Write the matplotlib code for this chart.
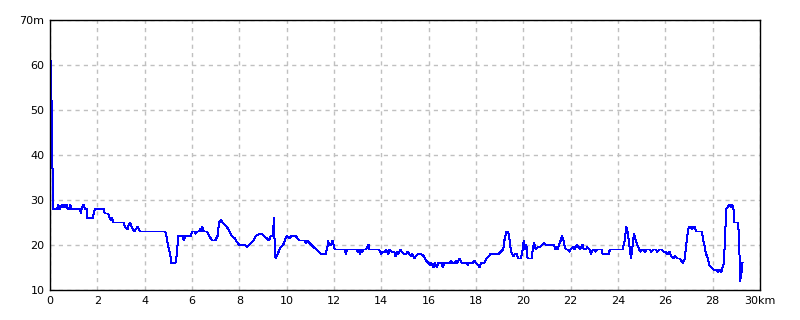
import matplotlib
matplotlib.use("Agg")
import matplotlib.pyplot as plt

# distance (km) and elevation (m)
dist_km = [
    0.00, 0.02, 0.04, 0.05, 0.08, 0.09, 0.11, 0.12, 0.30, 0.35, 0.40, 0.45, 0.50, 0.55, 0.60,
    0.65, 0.70, 0.75, 0.82, 0.86, 0.90, 1.27, 1.30, 1.33, 1.41, 1.48, 1.56, 1.58, 1.80, 1.85,
    1.90, 2.26, 2.32, 2.46, 2.52, 2.58, 2.62, 2.67, 3.10, 3.18, 3.28, 3.33, 3.39, 3.45, 3.55,
    3.62, 3.70, 3.81, 4.87, 4.92, 4.98, 5.03, 5.08, 5.13, 5.30, 5.36, 5.42, 5.60, 5.66, 5.72,
    5.96, 6.00, 6.10, 6.15, 6.22, 6.30, 6.35, 6.40, 6.43, 6.50, 6.64, 6.72, 6.85, 6.98, 7.08,
    7.14, 7.23, 7.28, 7.38, 7.48, 7.58, 7.68, 7.80, 7.86, 7.92, 8.00, 8.25, 8.33, 8.40, 8.50,
    8.60, 8.70, 8.85, 8.95, 9.05, 9.15, 9.25, 9.33, 9.42, 9.46, 9.50, 9.53, 9.58, 9.66, 9.75,
    9.85, 9.92, 10.00, 10.10, 10.20, 10.38, 10.45, 10.55, 10.75, 10.80, 10.85, 10.95, 11.05, 11.15, 11.25,
    11.35, 11.44, 11.65, 11.72, 11.75, 11.80, 11.88, 11.94, 12.00, 12.05, 12.45, 12.50, 12.55, 12.95, 13.00,
    13.05, 13.10, 13.15, 13.20, 13.25, 13.35, 13.40, 13.46, 13.50, 13.90, 14.00, 14.05, 14.15, 14.20, 14.25,
    14.30, 14.35, 14.45, 14.55, 14.60, 14.65, 14.72, 14.80, 14.85, 14.95, 15.05, 15.10, 15.18, 15.25, 15.30,
    15.40, 15.45, 15.55, 15.68, 15.80, 15.90, 16.00, 16.05, 16.10, 16.20, 16.25, 16.35, 16.40, 16.55, 16.60,
    16.65, 16.90, 16.95, 17.00, 17.10, 17.15, 17.20, 17.30, 17.40, 17.60, 17.65, 17.70, 17.85, 17.94, 18.00,
    18.10, 18.15, 18.22, 18.35, 18.45, 18.55, 18.60, 18.95, 19.05, 19.15, 19.20, 19.28, 19.36, 19.42, 19.47,
    19.52, 19.58, 19.65, 19.72, 19.78, 19.90, 19.97, 20.02, 20.08, 20.13, 20.18, 20.35, 20.40, 20.45, 20.52,
    20.60, 20.70, 20.80, 20.88, 20.95, 21.30, 21.35, 21.40, 21.45, 21.50, 21.58, 21.64, 21.70, 21.75, 21.80,
    21.90, 21.95, 22.00, 22.10, 22.15, 22.25, 22.35, 22.40, 22.50, 22.55, 22.65, 22.70, 22.80, 22.85, 22.90,
    22.95, 23.05, 23.10, 23.30, 23.35, 23.60, 23.66, 24.20, 24.28, 24.35, 24.40, 24.48, 24.55, 24.62, 24.67,
    24.75, 24.82, 24.90, 24.95, 25.05, 25.15, 25.20, 25.35, 25.40, 25.50, 25.60, 25.65, 25.75, 25.85, 25.92,
    26.00, 26.10, 26.18, 26.25, 26.34, 26.42, 26.50, 26.60, 26.68, 26.75, 26.82, 26.88, 26.95, 27.00, 27.08,
    27.12, 27.18, 27.25, 27.30, 27.55, 27.60, 27.65, 27.72, 27.80, 27.86, 27.95, 28.05, 28.15, 28.22, 28.30,
    28.36, 28.42, 28.47, 28.52, 28.57, 28.65, 28.72, 28.78, 28.82, 28.88, 28.92, 29.08, 29.12, 29.15, 29.17,
    29.20, 29.22, 29.26,
]
elev_m = [
    66, 61, 61, 52, 52, 37, 37, 28, 28, 29, 28, 28.5, 29, 28.5, 29,
    28.5, 29, 28, 28, 29, 28, 28, 27, 28, 29, 28, 28, 26, 26, 27,
    28, 28, 27, 27, 26, 25.5, 26, 25, 25, 24, 23.5, 24.5, 25, 24, 23,
    23.5, 24, 23, 23, 22, 20, 19, 18, 16, 16, 18, 22, 22, 21, 22,
    22, 23, 23, 22.5, 23, 23, 23.5, 23, 24, 23, 23, 22, 21, 21, 22,
    25, 25.5, 25, 24.5, 24, 23, 22, 21.5, 21, 20.5, 20, 20, 19.5, 20, 20.5,
    21, 22, 22.5, 22.5, 22, 21.5, 21, 22, 22, 26, 19, 17, 17.5, 18.5, 19.5,
    20, 21, 22, 21.5, 22, 22, 21.5, 21, 21, 20.5, 21, 20.5, 20, 19.5, 19,
    18.5, 18, 18, 19.5, 21, 20, 20, 21, 19.5, 19, 19, 18, 19, 19, 18.5,
    19, 18, 19, 18.5, 19, 19, 19.5, 20, 19, 19, 18, 18.5, 18.5, 19, 18.5,
    18, 19, 18.5, 18.5, 17.5, 18.5, 18, 19, 18.5, 18, 18, 18.5, 18, 17.5, 18,
    17, 17.5, 18, 18, 17.5, 16.5, 16, 15.5, 16, 15, 16, 15, 16, 16, 15,
    16, 16, 16.5, 16, 16, 16.5, 16, 17, 16, 16, 15.5, 16, 16, 16.5, 16,
    15.5, 15, 16, 16, 17, 17.5, 18, 18, 18.5, 19, 21, 23, 23, 21, 19,
    18, 17.5, 18, 18, 17, 17, 19, 21, 19, 20, 17, 17, 19, 20.5, 19,
    19.5, 19.5, 20, 20.5, 20, 20, 19, 19.5, 19, 20, 21, 22, 21, 19.5, 19,
    19, 18.5, 19, 19.5, 19, 20, 19.5, 19, 20, 19, 19, 19.5, 19, 18, 18.5,
    19, 18.5, 19, 19, 18, 18, 19, 19, 21, 24, 23, 20, 17, 20, 22.5,
    21, 20, 19, 18.5, 19, 18.5, 19, 19, 18.5, 19, 19, 18.5, 19, 19, 18.5,
    18.5, 18, 18.5, 17.5, 17, 17.5, 17, 17, 16.5, 16, 17, 20, 23, 24, 24,
    23.5, 24, 24, 23, 23, 21, 20, 18, 17, 15.5, 15, 14.5, 14.5, 14, 14.5,
    14, 15, 16, 21, 28, 28.5, 29, 28.5, 29, 28, 25, 25, 20, 15, 12,
    15, 14, 16,
]

x_ticks = [0, 2, 4, 6, 8, 10, 12, 14, 16, 18, 20, 22, 24, 26, 28, 30]
x_labels = ["0", "2", "4", "6", "8", "10", "12", "14", "16", "18", "20", "22", "24", "26", "28", "30km"]
y_ticks = [10, 20, 30, 40, 50, 60, 70]
y_labels = ["10", "20", "30", "40", "50", "60", "70m"]

fig = plt.figure(figsize=(8, 3.2), dpi=100)
ax = fig.add_axes([50 / 800, 30 / 320, 710 / 800, 270 / 320])

ax.plot(dist_km, elev_m, color="#0000ff", linewidth=0.72, antialiased=False)

ax.set_xlim(0, 30)
ax.set_ylim(10, 70)
ax.set_xticks(x_ticks)
ax.set_xticklabels(x_labels)
ax.set_yticks(y_ticks)
ax.set_yticklabels(y_labels)
ax.tick_params(length=0, labelsize=8, pad=4, colors="black")

ax.grid(True, color="#c0c0c0", linestyle=(0, (3, 3)), linewidth=1.0)
for s in ax.spines.values():
    s.set_color("black")
    s.set_linewidth(1.0)

fig.savefig("out.png", dpi=100, facecolor="white")
